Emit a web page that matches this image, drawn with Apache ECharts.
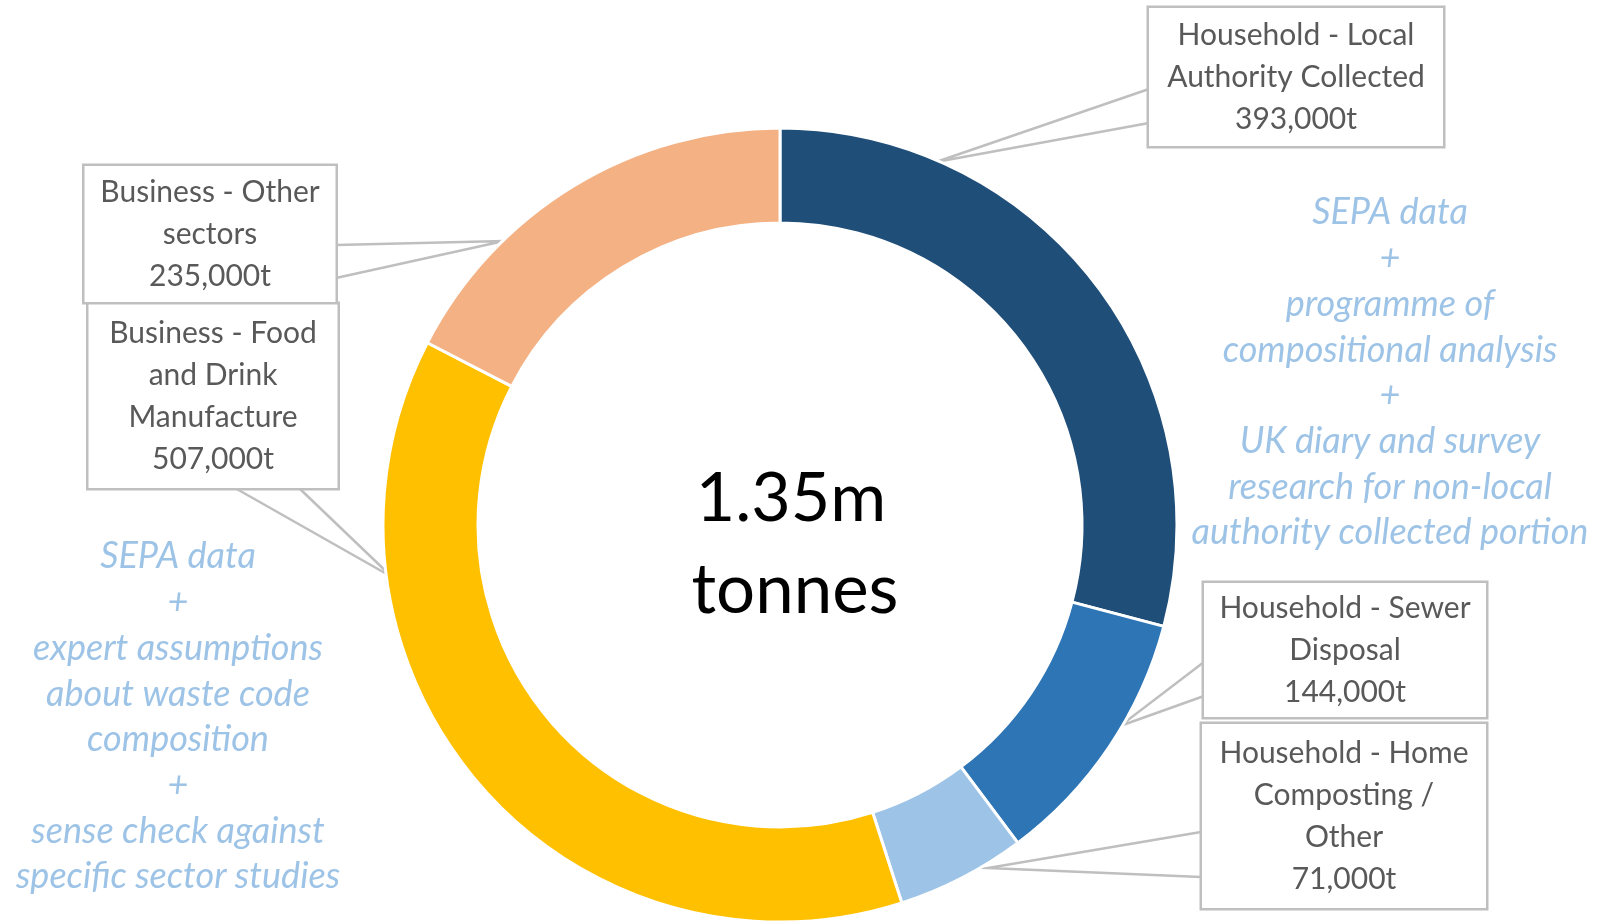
<!DOCTYPE html>
<html>
<head>
<meta charset="utf-8">
<script src="https://cdn.jsdelivr.net/npm/echarts@6/dist/echarts.min.js"></script>
<style>
html,body{margin:0;padding:0;background:#fff;}
#chart{width:1608px;height:923px;}
</style>
</head>
<body>
<div id="chart"></div>
<script>
// ---- data ----
const categories = [
  'Household - Local\nAuthority Collected',
  'Household - Sewer\nDisposal',
  'Household - Home\nComposting /\nOther',
  'Business - Food\nand Drink\nManufacture',
  'Business - Other\nsectors'
];
const values = [393, 144, 71, 507, 235]; // thousand tonnes
const totalLines = ['1.35m', 'tonnes'];
const noteRight = ['SEPA data', '+', 'programme of', 'compositional analysis', '+', 'UK diary and survey', 'research for non-local', 'authority collected portion'];
const noteLeft = ['SEPA data', '+', 'expert assumptions', 'about waste code', 'composition', '+', 'sense check against', 'specific sector studies'];

// ---- styling / layout ----
const colors = ['#1F4E79', '#2E75B6', '#9DC3E6', '#FFC000', '#F4B183'];
const FONT = 'Lato, "Open Sans", sans-serif';
const callouts = [
  {cx: 1296, cy: 77,  w: 294, pv: 6, pts: [[1149, 89], [936, 162], [1149, 123]]},
  {cx: 1345, cy: 650, w: 282, pv: 4, pts: [[1204, 662], [1120, 726], [1204, 696]]},
  {cx: 1344, cy: 816, w: 284, pv: 8, pts: [[1201, 832], [988, 868], [1201, 877]]},
  {cx: 213,  cy: 396, w: 249, pv: 8, pts: [[235, 488], [392, 577], [299, 488]]},
  {cx: 210,  cy: 234, w: 251, pv: 5, pts: [[336, 245], [504, 241], [336, 278]]}
];

function fmt(v) {
  return String(v * 1000).replace(/\B(?=(\d{3})+(?!\d))/g, ',') + 't';
}

const data = categories.map((name, i) => ({
  name: name,
  value: values[i],
  itemStyle: {color: colors[i]},
  label: {width: callouts[i].w, padding: [callouts[i].pv, 0]}
}));

const chart = echarts.init(document.getElementById('chart'));
chart.setOption({
  animation: false,
  backgroundColor: '#fff',
  series: [{
    type: 'pie',
    center: [780, 525],
    radius: [302, 397],
    startAngle: 90,
    clockwise: true,
    avoidLabelOverlap: false,
    silent: true,
    itemStyle: {borderColor: '#fff', borderWidth: 3},
    label: {
      show: true,
      position: 'outside',
      formatter: p => p.name + '\n' + fmt(p.value),
      fontFamily: FONT,
      fontSize: 30,
      lineHeight: 42,
      color: '#595959',
      align: 'center',
      backgroundColor: '#fff',
      borderColor: '#BFBFBF',
      borderWidth: 2.5
    },
    labelLine: {show: true, lineStyle: {color: '#BFBFBF', width: 2.5}},
    labelLayout: function (params) {
      const c = callouts[params.dataIndex];
      return {
        x: c.cx, y: c.cy,
        align: 'center', verticalAlign: 'middle',
        labelLinePoints: c.pts
      };
    },
    data: data
  }],
  graphic: [
    {
      type: 'text', z: 10,
      x: 791, y: 499,
      style: {text: totalLines[0], font: '68px ' + FONT, fill: '#000', textAlign: 'center', textVerticalAlign: 'middle'}
    },
    {
      type: 'text', z: 10,
      x: 795, y: 591,
      style: {text: totalLines[1], font: '69px ' + FONT, fill: '#000', textAlign: 'center', textVerticalAlign: 'middle'}
    },
    {
      type: 'text', z: 10,
      x: 1390, y: 190,
      style: {text: noteRight.join('\n'), font: 'italic 36px ' + FONT, lineHeight: 45.7, fill: '#9DC3E6', textAlign: 'center', textVerticalAlign: 'top'}
    },
    {
      type: 'text', z: 10,
      x: 178, y: 534,
      style: {text: noteLeft.join('\n'), font: 'italic 36px ' + FONT, lineHeight: 45.7, fill: '#9DC3E6', textAlign: 'center', textVerticalAlign: 'top'}
    }
  ]
});
</script>
</body>
</html>
